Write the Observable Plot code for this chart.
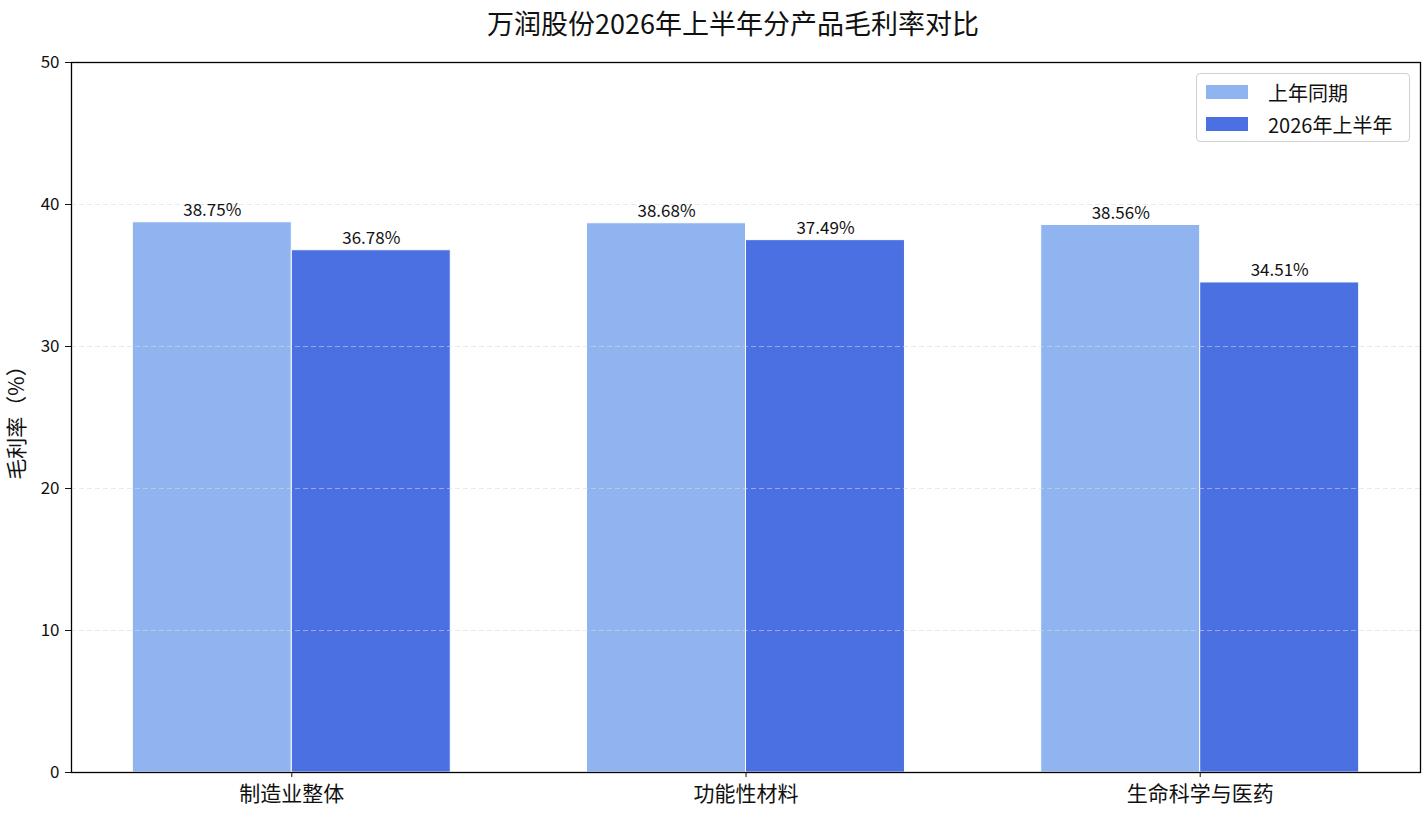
<!DOCTYPE html>
<html>
<head>
<meta charset="utf-8">
<script src="https://cdn.jsdelivr.net/npm/d3@7"></script>
<script src="https://cdn.jsdelivr.net/npm/@observablehq/plot@0.6"></script>
<style>
  html, body { margin: 0; padding: 0; background: #fff; }
  body { width: 1422px; height: 814px; position: relative; overflow: hidden;
         font-family: "Noto Sans CJK SC", "Noto Sans", sans-serif; }
  #title { height: 45px; line-height: 45px; text-align: center; padding-left: 44px;
           font-size: 27px; color: #111; box-sizing: border-box; }
  #legend { position: absolute; left: 1196px; top: 73px; width: 214px; height: 69px;
            box-sizing: border-box; border: 1px solid #d0d0d0; border-radius: 4px;
            background: rgba(255,255,255,0.85); font-size: 20px; color: #111; }
  .item { position: absolute; left: 9px; height: 22px; display: flex; align-items: center; }
  .sw { width: 42px; height: 14px; margin-right: 20px; }
</style>
</head>
<body>
<div id="title">万润股份2026年上半年分产品毛利率对比</div>
<div id="chart"></div>
<div id="legend"></div>
<script>
const categories = ["制造业整体", "功能性材料", "生命科学与医药"];
const seriesNames = ["上年同期", "2026年上半年"];
const lastYear = [38.75, 38.68, 38.56];
const thisYear = [36.78, 37.49, 34.51];
const colors = ["#8fb4f0", "#4a70e2"];
const yTicks = [0, 10, 20, 30, 40, 50];

const barWidth = 0.35;
const rows = [];
categories.forEach((c, i) => {
  rows.push({i, cat: c, series: seriesNames[0], value: lastYear[i], x1: i - barWidth, x2: i});
  rows.push({i, cat: c, series: seriesNames[1], value: thisYear[i], x1: i, x2: i + barWidth});
});

const chart = Plot.plot({
  width: 1422,
  height: 769,
  marginTop: 17,
  marginBottom: 42,
  marginLeft: 71,
  marginRight: 2,
  style: {fontFamily: '"Noto Sans CJK SC", "Noto Sans", sans-serif', color: "#111", background: "#fff"},
  x: {domain: [-0.485, 2.485], axis: null},
  y: {domain: [0, 50], axis: null},
  color: {domain: seriesNames, range: colors},
  marks: [
    Plot.rectY(rows, {x1: "x1", x2: "x2", y: "value", fill: "series", stroke: "white", strokeWidth: 1}),
    Plot.gridY([10, 20, 30, 40], {stroke: "#d8d8d8", strokeOpacity: 0.55, strokeDasharray: "5,3", strokeWidth: 1}),
    Plot.text(rows, {x: d => (d.x1 + d.x2) / 2, y: "value", text: d => d.value.toFixed(2) + "%",
      lineAnchor: "bottom", dy: -6, fontSize: 17, fill: "#111"}),
    Plot.axisY({ticks: yTicks, tickSize: 6, tickPadding: 6, fontSize: 17, label: null}),
    Plot.axisX({ticks: categories.map((c, i) => i), tickFormat: i => categories[i],
      tickSize: 5, tickPadding: 9, fontSize: 21, label: null}),
    Plot.frame({stroke: "black", strokeWidth: 1.3}),
    Plot.text(["毛利率（%）"], {frameAnchor: "left", textAnchor: "middle", rotate: -90, dx: -54, fontSize: 21, fill: "#111"})
  ]
});
document.getElementById("chart").appendChild(chart);

const legend = document.getElementById("legend");
seriesNames.forEach((s, k) => {
  const it = document.createElement("div");
  it.className = "item";
  it.style.top = (k === 0 ? 7 : 39) + "px";
  it.innerHTML = `<span class="sw" style="background:${colors[k]}"></span><span>${s}</span>`;
  legend.appendChild(it);
});
</script>
</body>
</html>
